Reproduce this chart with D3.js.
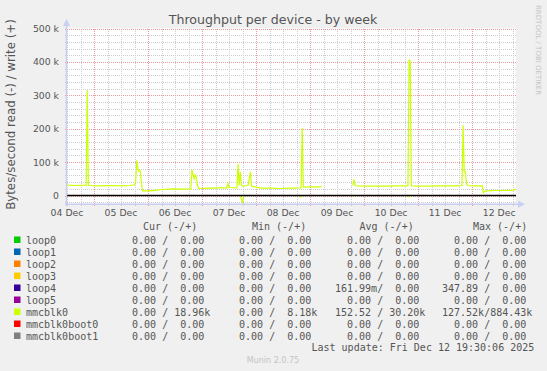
<!DOCTYPE html>
<html>
<head>
<meta charset="utf-8">
<script src="https://cdn.jsdelivr.net/npm/d3@7"></script>
<style>
  body { margin: 0; background: #f0f0f0; }
  svg { display: block; }
  text { font-family: "DejaVu Sans", sans-serif; fill: #555; }
  .mono { font-family: "DejaVu Sans Mono", monospace; font-size: 10px; white-space: pre; }
</style>
</head>
<body>
<svg id="chart" width="547" height="371"></svg>
<script>
/* ---------- data ---------- */
const devices = ["loop0", "loop1", "loop2", "loop3", "loop4", "loop5", "mmcblk0", "mmcblk0boot0", "mmcblk0boot1"];
const deviceColors = ["#00cc00", "#0066b3", "#ff8000", "#ffcc00", "#330099", "#990099", "#ccff00", "#ff0000", "#808080"];

const curRead  = ["0.00", "0.00", "0.00", "0.00", "0.00", "0.00", "0.00", "0.00", "0.00"];
const curWrite = ["0.00", "0.00", "0.00", "0.00", "0.00", "0.00", "18.96k", "0.00", "0.00"];
const minRead  = ["0.00", "0.00", "0.00", "0.00", "0.00", "0.00", "0.00", "0.00", "0.00"];
const minWrite = ["0.00", "0.00", "0.00", "0.00", "0.00", "0.00", "8.18k", "0.00", "0.00"];
const avgRead  = ["0.00", "0.00", "0.00", "0.00", "161.99m", "0.00", "152.52", "0.00", "0.00"];
const avgWrite = ["0.00", "0.00", "0.00", "0.00", "0.00", "0.00", "30.20k", "0.00", "0.00"];
const maxRead  = ["0.00", "0.00", "0.00", "0.00", "347.89", "0.00", "127.52k", "0.00", "0.00"];
const maxWrite = ["0.00", "0.00", "0.00", "0.00", "0.00", "0.00", "884.43k", "0.00", "0.00"];

const yTicks = [0, 100000, 200000, 300000, 400000, 500000];
const yTickLabels = ["0", "100 k", "200 k", "300 k", "400 k", "500 k"];
const dayLabels = ["04 Dec", "05 Dec", "06 Dec", "07 Dec", "08 Dec", "09 Dec", "10 Dec", "11 Dec", "12 Dec"];

// mmcblk0 write (+), breakpoints
const writeTimes = [
  "2025-12-04 12:00", "2025-12-04 15:30", "2025-12-04 20:30", "2025-12-04 21:00", "2025-12-04 21:30",
  "2025-12-05 02:30", "2025-12-05 08:00", "2025-12-05 12:30", "2025-12-05 16:00", "2025-12-05 18:00",
  "2025-12-05 18:30", "2025-12-05 19:00", "2025-12-05 19:30", "2025-12-05 20:00", "2025-12-05 20:30",
  "2025-12-05 21:00", "2025-12-05 21:30", "2025-12-06 01:00", "2025-12-06 04:00", "2025-12-06 06:30",
  "2025-12-06 11:00", "2025-12-06 14:00", "2025-12-06 19:00", "2025-12-06 19:30", "2025-12-06 20:00",
  "2025-12-06 20:30", "2025-12-06 21:00", "2025-12-06 21:30", "2025-12-06 22:00", "2025-12-06 22:30",
  "2025-12-07 03:30", "2025-12-07 08:00", "2025-12-07 11:00", "2025-12-07 11:30", "2025-12-07 12:00",
  "2025-12-07 15:30", "2025-12-07 16:00", "2025-12-07 16:30", "2025-12-07 17:00", "2025-12-07 17:30",
  "2025-12-07 18:00", "2025-12-07 20:00", "2025-12-07 20:30", "2025-12-07 21:00", "2025-12-07 21:30",
  "2025-12-07 22:00", "2025-12-08 02:00", "2025-12-08 06:00", "2025-12-08 10:30", "2025-12-08 15:00",
  "2025-12-08 20:00", "2025-12-08 20:30", "2025-12-08 21:00", "2025-12-09 01:30", "2025-12-09 04:30",
  "2025-12-09 05:00", "2025-12-09 05:30", "2025-12-09 18:30", "2025-12-09 19:00", "2025-12-09 19:30",
  "2025-12-09 20:00", "2025-12-09 20:30", "2025-12-10 02:30", "2025-12-10 09:30", "2025-12-10 14:00",
  "2025-12-10 19:30", "2025-12-10 20:00", "2025-12-10 20:30", "2025-12-10 21:00", "2025-12-11 03:00",
  "2025-12-11 09:30", "2025-12-11 16:30", "2025-12-11 19:30", "2025-12-11 20:00", "2025-12-11 20:30",
  "2025-12-11 21:00", "2025-12-11 21:30", "2025-12-11 22:00", "2025-12-12 01:30", "2025-12-12 04:30",
  "2025-12-12 05:00", "2025-12-12 05:30", "2025-12-12 06:00", "2025-12-12 10:00", "2025-12-12 14:30",
  "2025-12-12 18:30", "2025-12-12 19:30"
];
const writeValues = [
  31000, 30000, 31000, 315000, 30000,
  29000, 30000, 29000, 30000, 32000,
  40000, 105000, 80000, 72000, 74000,
  45000, 14000, 14000, 16000, 18000,
  20000, 19000, 19000, 77000, 62000,
  50000, 64000, 51000, 30000, 21000,
  22000, 23000, 23000, 36000, 24000,
  23000, 94000, 30000, 71000, 30000,
  28000, 30000, 32000, 50000, 71000,
  28000, 22000, 22000, 21000, 22000,
  23000, 203000, 25000, 26000, 26000,
  29000, null, null, 30000, 48000,
  30000, 29000, 28000, 28000, 29000,
  29000, 407000, 400000, 29000, 28000,
  29000, 29000, 30000, 210000, 71000,
  71000, 35000, 30000, 29000, 29000,
  8000, 12000, 14000, 15000, 15000,
  16000, 19000
];

// mmcblk0 read (-)
const readTimes = [
  "2025-12-04 12:00", "2025-12-07 16:30", "2025-12-07 17:00", "2025-12-07 17:30", "2025-12-07 18:00",
  "2025-12-07 18:30", "2025-12-08 19:30", "2025-12-08 20:00", "2025-12-08 20:30", "2025-12-09 05:00",
  "2025-12-09 05:30", "2025-12-09 18:30", "2025-12-09 19:00", "2025-12-09 19:30", "2025-12-10 19:30",
  "2025-12-10 20:00", "2025-12-10 20:30", "2025-12-12 19:30"
];
const readValues = [
  0, 0, -3000, -10000, -24000,
  0, 0, -5000, 0, 0,
  null, null, -4000, 0, 0,
  -4000, 0, 0
];

/* ---------- setup ---------- */
const svg = d3.select("#chart");
const parse = d3.timeParse("%Y-%m-%d %H:%M");
const plotLeft = 67, plotRight = 516, plotTop = 28.5, plotBottom = 204.2;

svg.append("rect").attr("width", 547).attr("height", 371).attr("fill", "#f0f0f0");
svg.append("rect").attr("x", plotLeft).attr("y", plotTop)
  .attr("width", plotRight - plotLeft).attr("height", plotBottom - plotTop).attr("fill", "#fff");

const x = d3.scaleTime()
  .domain([parse("2025-12-04 12:00"), parse("2025-12-12 19:30")])
  .range([plotLeft, plotRight]);
const y = d3.scaleLinear()
  .domain([-26000, 500000])
  .range([plotBottom, plotTop]);

const px = v => Math.round(v) + 0.5;

/* ---------- grid ---------- */
const grid = svg.append("g").attr("shape-rendering", "crispEdges");
const minorY = d3.range(-20000, 500001, 20000).filter(v => v % 100000 !== 0);
const minorX = d3.timeHour.every(6).range(x.domain()[0], x.domain()[1]).filter(d => d.getHours() !== 0);
const majorX = d3.timeDay.range(x.domain()[0], x.domain()[1]);

grid.selectAll(".minY").data(minorY).enter().append("line")
  .attr("x1", plotLeft - 2).attr("x2", plotRight).attr("y1", d => px(y(d))).attr("y2", d => px(y(d)))
  .attr("stroke", "#cccccc").attr("stroke-dasharray", "1,1");
grid.selectAll(".minX").data(minorX).enter().append("line")
  .attr("x1", d => px(x(d))).attr("x2", d => px(x(d))).attr("y1", plotTop).attr("y2", plotBottom + 2)
  .attr("stroke", "#cccccc").attr("stroke-dasharray", "1,1");
grid.selectAll(".majY").data(yTicks).enter().append("line")
  .attr("x1", plotLeft - 2).attr("x2", plotRight).attr("y1", d => px(y(d))).attr("y2", d => px(y(d)))
  .attr("stroke", "#e89c9c").attr("stroke-dasharray", "1,1");
grid.selectAll(".majX").data(majorX).enter().append("line")
  .attr("x1", d => px(x(d))).attr("x2", d => px(x(d))).attr("y1", plotTop).attr("y2", plotBottom + 2)
  .attr("stroke", "#e89c9c").attr("stroke-dasharray", "1,1");

/* ---------- series ---------- */
const line = d3.line()
  .defined(d => d.v !== null)
  .x(d => x(d.t))
  .y(d => y(d.v));

const writeData = writeTimes.map((t, i) => ({ t: parse(t), v: writeValues[i] }));
const readData = readTimes.map((t, i) => ({ t: parse(t), v: readValues[i] }));

svg.append("path").datum(readData).attr("d", line)
  .attr("fill", "none").attr("stroke", deviceColors[6]).attr("stroke-width", 1.2);
svg.append("path").datum(writeData).attr("d", line)
  .attr("fill", "none").attr("stroke", deviceColors[6]).attr("stroke-width", 1.2);

// zero line
svg.append("line")
  .attr("x1", plotLeft).attr("x2", plotRight).attr("y1", y(0)).attr("y2", y(0))
  .attr("stroke", "#000").attr("stroke-width", 1.6);

/* ---------- axes ---------- */
const axisColor = "#c8cef4";
svg.append("line").attr("x1", plotLeft - 0.5).attr("x2", plotLeft - 0.5).attr("y1", plotBottom + 2).attr("y2", 24)
  .attr("stroke", axisColor).attr("stroke-width", 1.5);
svg.append("path").attr("d", `M${plotLeft - 4},26 L${plotLeft - 0.5},19 L${plotLeft + 3},26 Z`).attr("fill", axisColor);
svg.append("line").attr("x1", plotLeft - 2).attr("x2", plotRight + 3).attr("y1", plotBottom).attr("y2", plotBottom)
  .attr("stroke", axisColor).attr("stroke-width", 1.5);
svg.append("path").attr("d", `M${plotRight + 2},${plotBottom - 3.5} L${plotRight + 9},${plotBottom} L${plotRight + 2},${plotBottom + 3.5} Z`)
  .attr("fill", axisColor);

svg.selectAll(".ylab").data(yTicks).enter().append("text")
  .attr("x", 59).attr("y", d => y(d) + 3.5)
  .attr("text-anchor", "end").style("font-size", "9.3px")
  .text((d, i) => yTickLabels[i]);

const noons = dayLabels.map((d, i) => d3.timeHour.offset(x.domain()[0], 24 * i));
svg.selectAll(".xlab").data(noons).enter().append("text")
  .attr("x", d => x(d)).attr("y", 216)
  .attr("text-anchor", "middle").style("font-size", "9.3px")
  .text((d, i) => dayLabels[i]);

/* ---------- titles ---------- */
svg.append("text").attr("x", 273).attr("y", 23.5).attr("text-anchor", "middle")
  .style("font-size", "12.6px").text("Throughput per device - by week");
svg.append("text").attr("transform", "translate(15,114.5) rotate(-90)").attr("text-anchor", "middle")
  .style("font-size", "11.8px").text("Bytes/second read (-) / write (+)");
svg.append("text").attr("transform", "translate(536,5) rotate(90)")
  .style("font-size", "7px").style("fill", "#c4c4c4").text("RRDTOOL / TOBI OETIKER");

/* ---------- legend ---------- */
const fmt = s => {
  const unit = /[a-z]$/i.test(s) ? s.slice(-1) : " ";
  const num = unit === " " ? s : s.slice(0, -1);
  return num.padStart(6) + unit;
};
const headers = [["Cur (-/+)", 143], ["Min (-/+)", 252], ["Avg (-/+)", 359.5], ["Max (-/+)", 473]];
headers.forEach(h => {
  svg.append("text").attr("class", "mono").attr("x", h[1]).attr("y", 230.2).text(h[0]);
});

const colX = [120, 227, 335, 442];
const cols = [[curRead, curWrite], [minRead, minWrite], [avgRead, avgWrite], [maxRead, maxWrite]];
devices.forEach((name, i) => {
  const cy = 240 + i * 12;
  svg.append("rect").attr("x", 14).attr("y", cy - 3.5).attr("width", 6.5).attr("height", 6.5)
    .attr("fill", deviceColors[i]);
  svg.append("text").attr("class", "mono").attr("x", 26).attr("y", cy + 3.5).text(name);
  cols.forEach((c, j) => {
    svg.append("text").attr("class", "mono").attr("x", colX[j]).attr("y", cy + 3.5)
      .text(fmt(c[0][i]) + "/" + fmt(c[1][i]));
  });
});

svg.append("text").attr("class", "mono").attr("x", 311.5).attr("y", 351.2)
  .text("Last update: Fri Dec 12 19:30:06 2025");
svg.append("text").attr("x", 273).attr("y", 363).attr("text-anchor", "middle")
  .style("font-size", "8px").style("fill", "#c4c4c4").text("Munin 2.0.75");
</script>
</body>
</html>
